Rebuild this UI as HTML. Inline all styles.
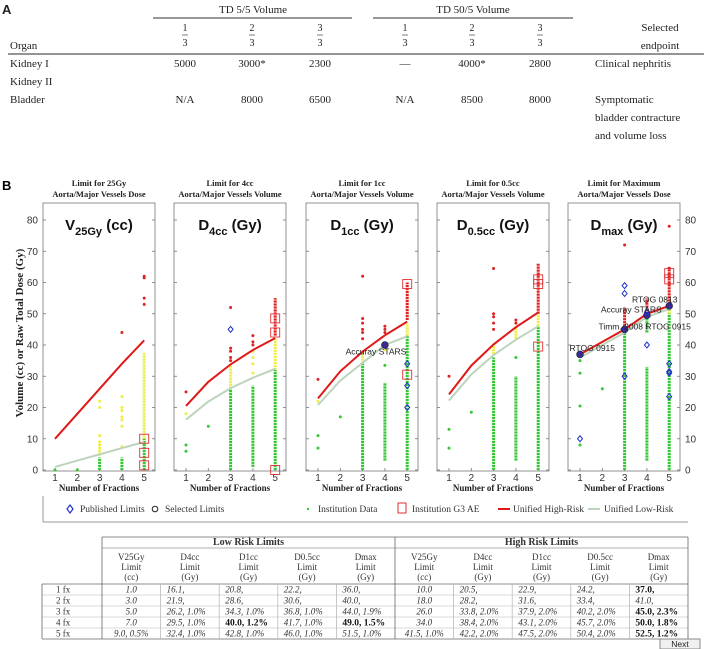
<!DOCTYPE html>
<html><head><meta charset="utf-8">
<style>
html,body{margin:0;padding:0;background:#fff;}
svg{display:block;}
.serif{font-family:"Liberation Serif",serif;}
.sans{font-family:"Liberation Sans",sans-serif;}
</style></head>
<body>
<svg id="fig" width="704" height="649" viewBox="0 0 704 649" xmlns="http://www.w3.org/2000/svg">
<!-- Panel A table -->
<g class="serif" font-size="11" fill="#222">
  <text x="2" y="14" class="sans" font-weight="bold" font-size="13">A</text>
  <text x="253" y="13" text-anchor="middle">TD 5/5 Volume</text>
  <line x1="153" y1="18" x2="352" y2="18" stroke="#333" stroke-width="1"/>
  <text x="473" y="13" text-anchor="middle">TD 50/5 Volume</text>
  <line x1="373" y1="18" x2="573" y2="18" stroke="#333" stroke-width="1"/>
  <g id="fracs" font-size="10"></g>
  <text x="10" y="49">Organ</text>
  <text x="660" y="31" text-anchor="middle">Selected</text>
  <text x="660" y="49" text-anchor="middle">endpoint</text>
  <line x1="8" y1="54" x2="704" y2="54" stroke="#555" stroke-width="1.2"/>
  <text x="10" y="67">Kidney I</text>
  <text x="10" y="85">Kidney II</text>
  <text x="10" y="103">Bladder</text>
  <g text-anchor="middle">
    <text x="185" y="67">5000</text><text x="252" y="67">3000*</text><text x="320" y="67">2300</text>
    <text x="405" y="67">—</text><text x="472" y="67">4000*</text><text x="540" y="67">2800</text>
    <text x="185" y="103">N/A</text><text x="252" y="103">8000</text><text x="320" y="103">6500</text>
    <text x="405" y="103">N/A</text><text x="472" y="103">8500</text><text x="540" y="103">8000</text>
  </g>
  <text x="595" y="67">Clinical nephritis</text>
  <text x="595" y="103">Symptomatic</text>
  <text x="595" y="121">bladder contracture</text>
  <text x="595" y="139">and volume loss</text>
</g>
<text x="2" y="190" class="sans" font-weight="bold" font-size="13">B</text>
<text transform="translate(23,333) rotate(-90)" text-anchor="middle" class="serif" font-weight="bold" font-size="11" fill="#222">Volume (cc) or Raw Total Dose (Gy)</text>
<g id="charts"></g>
<!-- Legend -->
<g class="serif" font-size="9.5" fill="#333">
  <line x1="43" y1="496" x2="43" y2="522" stroke="#999"/>
  <line x1="43" y1="522" x2="688" y2="522" stroke="#999"/>
  <g><path d="M70,505 L73,509 L70,513 L67,509 Z" fill="none" stroke="#2233cc" stroke-width="1.2"/><text x="80" y="512">Published Limits</text></g>
  <g><circle cx="155" cy="509" r="2.8" fill="none" stroke="#222" stroke-width="1"/><text x="165" y="512">Selected Limits</text></g>
  <g><circle cx="308" cy="509" r="1.2" fill="#33cc33"/><text x="318" y="512">Institution Data</text></g>
  <g><rect x="398" y="503" width="8" height="10" fill="none" stroke="#e03030"/><text x="412" y="512">Institution G3 AE</text></g>
  <g><line x1="498" y1="509" x2="510" y2="509" stroke="#e01818" stroke-width="2"/><text x="513" y="512">Unified High-Risk</text></g>
  <g><line x1="588" y1="509" x2="600" y2="509" stroke="#bcd4bc" stroke-width="2"/><text x="604" y="512">Unified Low-Risk</text></g>
</g>
<g id="tableb" class="serif" font-size="9" fill="#333"></g>
<g>
  <rect x="660" y="639" width="40" height="10" fill="#f0f0f0" stroke="#888"/>
  <text x="680" y="647" text-anchor="middle" class="sans" font-size="8.5" fill="#222">Next</text>
</g>
</svg>
<script>
// ---- chart data (values in cc or Gy) ----
const fractions = [1, 2, 3, 4, 5];
const yTicks = [0, 10, 20, 30, 40, 50, 60, 70, 80];
const panelTitles1 = ["Limit for 25Gy", "Limit for 4cc", "Limit for 1cc", "Limit for 0.5cc", "Limit for Maximum"];
const panelTitles2 = ["Aorta/Major Vessels Dose", "Aorta/Major Vessels Volume", "Aorta/Major Vessels Volume", "Aorta/Major Vessels Volume", "Aorta/Major Vessels Dose"];
const metricMain = ["V", "D", "D", "D", "D"];
const metricSub = ["25Gy", "4cc", "1cc", "0.5cc", "max"];
const metricUnit = [" (cc)", " (Gy)", " (Gy)", " (Gy)", " (Gy)"];
const highRisk = [[10, 18, 26, 34, 41.5], [20.5, 28.2, 33.8, 38.4, 42.2], [22.9, 31.6, 37.9, 43.1, 47.5], [24.2, 33.4, 40.2, 45.7, 50.4], [37, 41, 45, 50, 52.5]];
const lowRisk = [[1, 3, 5, 7, 9], [16.1, 21.9, 26.2, 29.5, 32.4], [20.8, 28.6, 34.3, 40, 42.8], [22.2, 30.6, 36.8, 41.7, 46], [36, 40, 44, 49, 51.5]];
// dense institution-data stripes: [fraction, low, high]
const greenRanges = [[[3,0,4],[4,0,4],[5,0,10]], [[3,0,26],[4,1,27],[5,0,32]], [[3,0,34],[4,3,28],[5,0,43]], [[3,0,36],[4,3,30],[5,0,46]], [[3,0,44],[4,3,33],[4,44,49],[5,0,52]]];
const yellowRanges = [[[5,10,37.5]], [[3,26,34],[5,32,42]], [[3,34,38],[4,38,41],[5,43,47]], [[3,37,40],[4,42,46],[5,46,50]], [[5,50,52]]];
const redRanges = [[], [[5,43,55]], [[5,48,60]], [[5,50,66]], [[3,45,52],[4,50,55],[5,52,65]]];
// isolated points: [fraction, value]
const greenPts = [[[1,0],[2,0]], [[1,6],[1,8],[2,14]], [[1,7],[1,11],[2,17],[4,33.5]], [[1,7],[1,13],[2,18.5],[4,36]], [[1,8],[1,20.5],[1,31],[1,35],[2,26]]];
const yellowPts = [[[3,5],[3,6],[3,7],[3,8],[3,9],[3,11],[3,20],[3,22],[4,7.5],[4,14],[4,16],[4,17],[4,19],[4,20],[4,23.5]], [[1,18],[4,31],[4,34],[4,36],[4,38]], [[1,22]], [], []];
const redPts = [[[4,44],[5,53],[5,55],[5,61.5],[5,62]], [[1,25],[3,35],[3,36],[3,38],[3,39],[3,52],[4,40],[4,41],[4,43]], [[1,29],[3,42],[3,44],[3,45],[3,47],[3,48.5],[3,62],[4,44],[4,45],[4,46]], [[1,30],[3,45],[3,47],[3,49],[3,50],[3,64.5],[4,47],[4,48]], [[3,72],[5,78]]];
const g3Squares = [[[5,1.5],[5,5.5],[5,10]], [[5,0],[5,44],[5,48.5]], [[5,59.5],[5,30.5]], [[5,59.5],[5,61],[5,39.5]], [[5,61],[5,63]]];
const published = [[], [[3,45]], [[4,40],[5,34],[5,27],[5,20]], [], [[1,10],[1,37],[3,59],[3,56.5],[3,45],[3,30],[4,40],[4,49.5],[4,50.5],[5,34],[5,31.5],[5,31],[5,23.5],[5,52.5]]];
const selected = [[], [], [[4,40]], [], [[1,37],[3,45],[4,49.5],[5,52.5]]];
const annoText = [[], [], ["Accuray STARS"], [], ["RTOG 0915", "Timm. 2008 RTOG 0915", "Accuray STARS", "RTOG 0813"]];
const annoPos = [[], [], [[3.6,38]], [], [[1.55,39],[3.9,46],[3.3,51.3],[4.35,54.5]]];

// ---- axes ----
const panelLeft = [43, 174, 306, 437, 568];
const PW = 112, TOP = 203, BOT = 471;
function xs(p, f) { return panelLeft[p] + 12 + (f - 1) * 22.3; }
function ys(v) { return 470 - 3.125 * v; }

const NS = "http://www.w3.org/2000/svg";
function mk(tag, attrs, parent) {
  const e = document.createElementNS(NS, tag);
  for (const k in attrs) e.setAttribute(k, attrs[k]);
  parent.appendChild(e);
  return e;
}
const charts = document.getElementById("charts");
const GREEN = "#33c833", YEL = "#eeee44", RED = "#e02222";

for (let p = 0; p < 5; p++) {
  const g = mk("g", {}, charts);
  
  
  const L = panelLeft[p], R = L + PW;
  // titles
  const t1 = mk("text", {x: L + PW / 2, y: 186, "text-anchor": "middle", "font-family": "Liberation Serif, serif", "font-weight": "bold", "font-size": "8.5", fill: "#222"}, g);
  t1.textContent = panelTitles1[p];
  
  
  const t2 = mk("text", {x: L + PW / 2, y: 197, "text-anchor": "middle", "font-family": "Liberation Serif, serif", "font-weight": "bold", "font-size": "8.5", fill: "#222"}, g);
  t2.textContent = panelTitles2[p];
  // box
  const box = mk("rect", {x: L, y: TOP, width: PW, height: BOT - TOP, fill: "none", stroke: "#777", "stroke-width": 0.8}, g);
  
  
  // y ticks
  yTicks.forEach(v => {
    mk("line", {x1: L, x2: L + 3, y1: ys(v), y2: ys(v), stroke: "#777", "stroke-width": 0.8}, g);
    mk("line", {x1: R - 3, x2: R, y1: ys(v), y2: ys(v), stroke: "#777", "stroke-width": 0.8}, g);
    if (p === 0 || p === 4) {
      const tl = mk("text", {x: p === 0 ? L - 5 : R + 5, y: ys(v) + 3.5, "text-anchor": p === 0 ? "end" : "start", "font-family": "Liberation Sans, sans-serif", "font-size": "10", fill: "#333"}, g);
      tl.textContent = v;
      
      
    }
  });
  fractions.forEach(f => {
    mk("line", {x1: xs(p, f), x2: xs(p, f), y1: BOT, y2: BOT - 3, stroke: "#777", "stroke-width": 0.8}, g);
    const xl = mk("text", {x: xs(p, f), y: 481, "text-anchor": "middle", "font-family": "Liberation Sans, sans-serif", "font-size": "10", fill: "#333"}, g);
    xl.textContent = f;
    
    
  });
  const xt = mk("text", {x: L + PW / 2, y: 491, "text-anchor": "middle", "font-family": "Liberation Serif, serif", "font-weight": "bold", "font-size": "9", fill: "#222"}, g);
  xt.textContent = "Number of Fractions";
  
  
  // metric label
  const ml = mk("text", {x: L + PW / 2, y: 230, "text-anchor": "middle", "font-family": "Liberation Sans, sans-serif", "font-weight": "bold", "font-size": "15", fill: "#111"}, g);
  
  
  const s1 = mk("tspan", {}, ml); s1.textContent = metricMain[p];
  const s2 = mk("tspan", {dy: 5, "font-size": "11"}, ml); s2.textContent = metricSub[p];
  const s3 = mk("tspan", {dy: -5}, ml); s3.textContent = metricUnit[p];
  // stripes
  const stripe = (arr, col, w) => arr.forEach(([f, a, b]) => {
    const s = mk("line", {x1: xs(p, f), x2: xs(p, f), y1: ys(a), y2: ys(b), stroke: col, "stroke-width": w, "stroke-dasharray": "2.2 0.8"}, g);
    
    
  });
  stripe(greenRanges[p], GREEN, 3);
  stripe(yellowRanges[p], YEL, 3);
  stripe(redRanges[p], RED, 3);
  const pts = (arr, col) => arr.forEach(([f, v]) => {
    const c = mk("circle", {cx: xs(p, f), cy: ys(v), r: 1.5, fill: col}, g);
    
    
  });
  pts(greenPts[p], GREEN);
  pts(yellowPts[p], YEL);
  pts(redPts[p], RED);
  // lines
  const lineOf = (arr, col, w) => {
    const d = arr.map((v, i) => (i ? "L" : "M") + xs(p, fractions[i]).toFixed(1) + "," + ys(v).toFixed(1)).join(" ");
    return mk("path", {d: d, fill: "none", stroke: col, "stroke-width": w}, g);
  };
  const ll = lineOf(lowRisk[p], "#bcd4bc", 2);
  
  
  const hl = lineOf(highRisk[p], "#e01818", 2);
  
  
  g3Squares[p].forEach(([f, v]) => {
    const s = mk("rect", {x: xs(p, f) - 4.5, y: ys(v) - 4.5, width: 9, height: 9, fill: "none", stroke: "#e03030", "stroke-width": 0.9}, g);
    
    
  });
  selected[p].forEach(([f, v]) => {
    const c = mk("circle", {cx: xs(p, f), cy: ys(v), r: 3.3, fill: "#552266", stroke: "#222", "stroke-width": 0.8}, g);
    
    
  });
  published[p].forEach(([f, v]) => {
    const x = xs(p, f), y = ys(v);
    const d = mk("path", {d: `M${x},${y - 3} L${x + 2.5},${y} L${x},${y + 3} L${x - 2.5},${y} Z`, fill: "none", stroke: "#2233cc", "stroke-width": 1}, g);
    
    
  });
  annoText[p].forEach((s, i) => {
    const [f, v] = annoPos[p][i];
    const a = mk("text", {x: xs(p, f), y: ys(v) + 3, "text-anchor": "middle", "font-family": "Liberation Sans, sans-serif", "font-size": "8.5", fill: "#222"}, g);
    a.textContent = s;
    
    
  });
}

// ---- table B data ----
const rowLabels = ["1 fx", "2 fx", "3 fx", "4 fx", "5 fx"];
const colHead1 = ["V25Gy", "D4cc", "D1cc", "D0.5cc", "Dmax", "V25Gy", "D4cc", "D1cc", "D0.5cc", "Dmax"];
const colHead3 = ["(cc)", "(Gy)", "(Gy)", "(Gy)", "(Gy)", "(cc)", "(Gy)", "(Gy)", "(Gy)", "(Gy)"];
const lowRiskCells = [
  ["1.0", "16.1,", "20.8,", "22.2,", "36.0,"],
  ["3.0", "21.9,", "28.6,", "30.6,", "40.0,"],
  ["5.0", "26.2,  1.0%", "34.3,  1.0%", "36.8,  1.0%", "44.0,  1.9%"],
  ["7.0", "29.5,  1.0%", "40.0,  1.2%", "41.7,  1.0%", "49.0,  1.5%"],
  ["9.0,  0.5%", "32.4,  1.0%", "42.8,  1.0%", "46.0,  1.0%", "51.5,  1.0%"]];
const highRiskCells = [
  ["10.0", "20.5,", "22.9,", "24.2,", "37.0,"],
  ["18.0", "28.2,", "31.6,", "33.4,", "41.0,"],
  ["26.0", "33.8,  2.0%", "37.9,  2.0%", "40.2,  2.0%", "45.0,  2.3%"],
  ["34.0", "38.4,  2.0%", "43.1,  2.0%", "45.7,  2.0%", "50.0,  1.8%"],
  ["41.5,  1.0%", "42.2,  2.0%", "47.5,  2.0%", "50.4,  2.0%", "52.5,  1.2%"]];
const boldCells = ["0-3-2", "0-3-4", "1-0-4", "1-2-4", "1-3-4", "1-4-4"];

const tb = document.getElementById("tableb");
const TL = 102, CW = 58.6, TR = 688, RT = 584, RH = 11;
const line = (x1, y1, x2, y2, c, w) => mk("line", {x1, y1, x2, y2, stroke: c || "#666", "stroke-width": w || 0.8}, tb);
line(TL, 537, TR, 537);
line(TL, 548, TR, 548, "#999");
line(42, RT, TR, RT);
line(42, RT + 5 * RH, TR, RT + 5 * RH);
for (let r = 1; r < 5; r++) line(42, RT + r * RH, TR, RT + r * RH, "#ccc");
line(42, RT, 42, RT + 5 * RH);
line(TL, 537, TL, RT + 5 * RH);
line(TL + 5 * CW, 537, TL + 5 * CW, RT + 5 * RH);
line(TR, 537, TR, RT + 5 * RH);
for (let c = 1; c < 10; c++) if (c !== 5) line(TL + c * CW, RT, TL + c * CW, RT + 5 * RH, "#bbb");
const txt = (x, y, s, anchor, extra) => {
  const t = mk("text", Object.assign({x, y, "text-anchor": anchor || "middle"}, extra || {}), tb);
  t.textContent = s;
  return t;
};
const h1 = txt(TL + 2.5 * CW, 545, "Low Risk Limits", "middle", {"font-weight": "bold", "font-size": "10"});


const h2 = txt(TL + 7.5 * CW, 545, "High Risk Limits", "middle", {"font-weight": "bold", "font-size": "10"});


colHead1.forEach((s, c) => {
  const cx = TL + (c + 0.5) * CW;
  const t = txt(cx, 560, s);
  
  
  txt(cx, 570, "Limit");
  txt(cx, 580, colHead3[c]);
});
rowLabels.forEach((s, r) => {
  const t = txt(56, RT + r * RH + 8.5, s, "start");
  
  
});
[lowRiskCells, highRiskCells].forEach((grid, side) => {
  grid.forEach((row, r) => row.forEach((s, c) => {
    const col = side * 5 + c;
    const bold = boldCells.includes(side + "-" + r + "-" + c);
    const x = c === 0 ? TL + (col + 0.5) * CW : TL + col * CW + 6;
    const t = txt(x, RT + r * RH + 8.5, s, c === 0 ? "middle" : "start",
      bold ? {"font-weight": "bold", "font-size": "9.5", fill: "#111", "xml:space": "preserve"} : {"font-style": "italic", "xml:space": "preserve"});
    
    
  }));
});

// fractions in table A
const fracNum = ["1", "2", "3", "1", "2", "3"];
const fracX = [185, 252, 320, 405, 472, 540];
const fg = document.getElementById("fracs");
fracX.forEach((x, i) => {
  const n = mk("text", {x, y: 31, "text-anchor": "middle"}, fg); n.textContent = fracNum[i];
  
  
  mk("line", {x1: x - 3, x2: x + 3, y1: 35, y2: 35, stroke: "#444", "stroke-width": 0.7}, fg);
  const d = mk("text", {x, y: 46, "text-anchor": "middle"}, fg); d.textContent = "3";
});
</script>
</body></html>
